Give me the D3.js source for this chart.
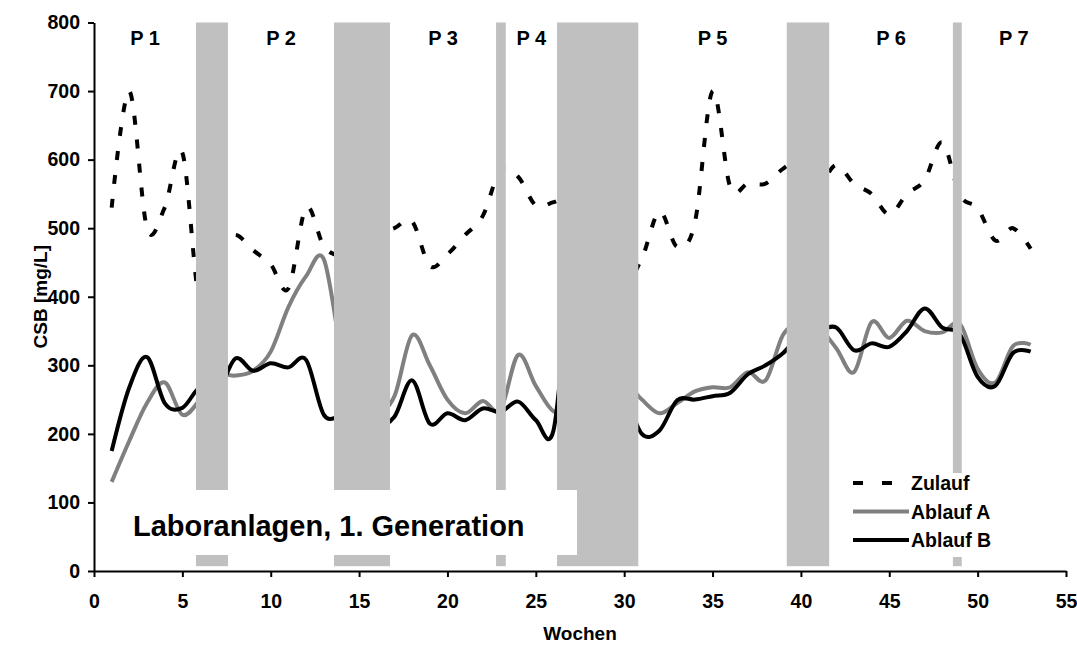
<!DOCTYPE html>
<html>
<head>
<meta charset="utf-8">
<script src="https://cdn.jsdelivr.net/npm/d3@7"></script>
<style>
  body { margin: 0; background: #fff; }
  svg text { font-family: "Liberation Sans", Arial, sans-serif; font-weight: bold; fill: #000; }
</style>
</head>
<body>
<svg id="chart" width="1077" height="646"></svg>
<script>
// Weekly COD (CSB) measurements, weeks 1..53
const weeks = d3.range(1, 54);
const zulauf = [530, 700, 500, 530, 610, 390, 470, 490, 468, 447,
                412, 530, 474, 460, 470, 490, 500, 510, 445, 462,
                490, 518, 585, 575, 533, 538, 545, 520, 480, 420,
                456, 524, 473, 508, 700, 560, 565, 565, 587, 600,
                565, 592, 565, 550, 520, 550, 570, 625, 548, 529,
                482, 500, 470];
const ablaufA = [130, 190, 245, 275, 228, 250, 285, 285, 292, 320,
                 385, 430, 455, 320, 240, 230, 255, 344, 300, 250,
                 230, 248, 235, 315, 270, 233, 240, 250, 260, 275,
                 250, 230, 245, 262, 268, 268, 290, 278, 345, 360,
                 355, 325, 290, 363, 340, 365, 350, 348, 360, 295,
                 275, 328, 330];
const ablaufB = [175, 268, 312, 245, 238, 268, 262, 310, 292, 303,
                 297, 308, 228, 225, 215, 210, 225, 278, 215, 230,
                 220, 237, 232, 247, 220, 205, 420, 350, 300, 260,
                 200, 205, 249, 250, 255, 260, 287, 300, 318, 345,
                 350, 355, 322, 332, 327, 350, 383, 355, 345, 283,
                 270, 318, 320];

// Interruptions between operating periods (in weeks)
const pauseStart = [5.77, 13.58, 22.75, 26.2, 39.2, 48.6];
const pauseEnd   = [7.58, 16.75, 23.3, 30.8, 41.6, 49.1];
const periodNames = ["P 1", "P 2", "P 3", "P 4", "P 5", "P 6", "P 7"];

const xTicks = d3.range(0, 56, 5);
const yTicks = d3.range(0, 801, 100);
const seriesNames = ["Zulauf", "Ablauf A", "Ablauf B"];

const svg = d3.select("#chart");
const x = d3.scaleLinear().domain([0, 55]).range([94, 1066]);
const y = d3.scaleLinear().domain([0, 800]).range([571, 22.5]);

const line = d3.line()
  .x((d, i) => x(weeks[i]))
  .y(d => y(d))
  .curve(d3.curveCardinal.tension(0));

const styles = [
  { data: zulauf,  color: "#000", dash: "9,15" },
  { data: ablaufA, color: "#808080", dash: null },
  { data: ablaufB, color: "#000", dash: null }
];

// series lines (drawn below the pause bands)
const gLines = svg.append("g");
[styles[1], styles[2], styles[0]].forEach(s => {
  gLines.append("path")
    .attr("d", line(s.data))
    .attr("fill", "none")
    .attr("stroke", s.color)
    .attr("stroke-width", 4)
    .attr("stroke-linejoin", "round")
    .attr("stroke-dasharray", s.dash);
});

// pause bands
const bandBottom = 7;
svg.append("g").selectAll("rect")
  .data(pauseStart)
  .join("rect")
  .attr("x", d => x(d))
  .attr("width", (d, i) => x(pauseEnd[i]) - x(d))
  .attr("y", y(800))
  .attr("height", y(bandBottom) - y(800))
  .attr("fill", "#c0c0c0");

// period labels centred between pauses
const bounds = [0, ...pauseStart.flatMap((s, i) => [s, pauseEnd[i]]), 55];
periodNames.forEach((name, i) => {
  const a = bounds[2 * i], b = bounds[2 * i + 1];
  svg.append("text")
    .attr("x", x((a + b) / 2))
    .attr("y", 45)
    .attr("text-anchor", "middle")
    .style("font-size", "20px")
    .text(name);
});

// caption box
svg.append("rect")
  .attr("x", 95).attr("y", 490)
  .attr("width", 482).attr("height", 65)
  .attr("fill", "#fff");
svg.append("text")
  .attr("x", 133).attr("y", 536)
  .style("font-size", "29px")
  .text("Laboranlagen, 1. Generation");

// legend
svg.append("rect")
  .attr("x", 838).attr("y", 473)
  .attr("width", 170).attr("height", 84)
  .attr("fill", "#fff");
const legend = svg.append("g");
styles.forEach((s, i) => {
  const ly = 483 + i * 28.5;
  legend.append("line")
    .attr("x1", 853).attr("x2", 909)
    .attr("y1", ly).attr("y2", ly)
    .attr("stroke", s.color)
    .attr("stroke-width", 4)
    .attr("stroke-dasharray", s.dash ? "10,19" : null);
  legend.append("text")
    .attr("x", 911).attr("y", ly + 7)
    .style("font-size", "19.5px")
    .text(seriesNames[i]);
});

// axes
const xAxis = svg.append("g")
  .attr("transform", `translate(0,${y(0)})`)
  .call(d3.axisBottom(x).tickValues(xTicks).tickSize(6).tickSizeOuter(0).tickPadding(17));
const yAxis = svg.append("g")
  .attr("transform", `translate(${x(0)},0)`)
  .call(d3.axisLeft(y).tickValues(yTicks).tickSize(6).tickSizeOuter(0).tickPadding(8));
[xAxis, yAxis].forEach(g => {
  g.select(".domain").attr("stroke", "#000").attr("stroke-width", 2);
  g.selectAll(".tick line").attr("stroke", "#000").attr("stroke-width", 2);
  g.selectAll(".tick text")
    .style("font-family", '"Liberation Sans", Arial, sans-serif')
    .style("font-weight", "bold")
    .style("font-size", "19.5px")
    .attr("fill", "#000");
});

// axis titles
svg.append("text")
  .attr("x", 580).attr("y", 640)
  .attr("text-anchor", "middle")
  .style("font-size", "19px")
  .text("Wochen");
svg.append("text")
  .attr("transform", `translate(47,${(y(0) + y(800)) / 2}) rotate(-90)`)
  .attr("text-anchor", "middle")
  .style("font-size", "19px")
  .text("CSB [mg/L]");
</script>
</body>
</html>
